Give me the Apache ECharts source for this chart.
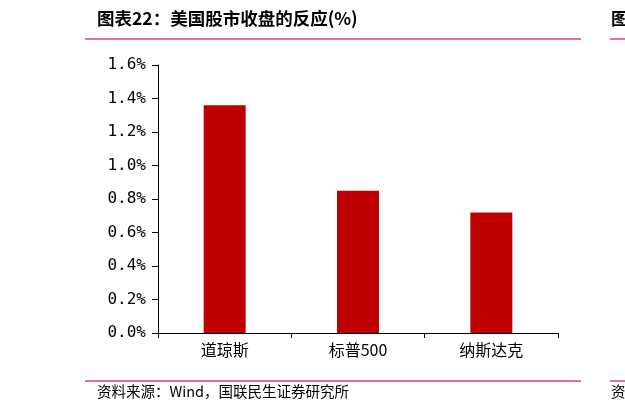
<!DOCTYPE html>
<html>
<head>
<meta charset="utf-8">
<script src="https://cdn.jsdelivr.net/npm/echarts@6/dist/echarts.min.js"></script>
<style>
html,body{margin:0;padding:0;background:#fff;}
#c{width:625px;height:409px;}
</style>
</head>
<body>
<div id="c"></div>
<script>
const categories = ['道琼斯', '标普500', '纳斯达克'];
const values = [1.36, 0.85, 0.72];
const yTicks = [0, 0.2, 0.4, 0.6, 0.8, 1.0, 1.2, 1.4, 1.6];

const chart = echarts.init(document.getElementById('c'), null, {renderer: 'canvas'});
const cjk = '"Noto Sans CJK SC", "Noto Sans", sans-serif';
const lineColor = '#d8466c';
chart.setOption({
  animation: false,
  backgroundColor: '#fff',
  grid: {left: 158, right: 67, top: 65, bottom: 76, containLabel: false},
  xAxis: {
    type: 'category',
    data: categories,
    axisLine: {lineStyle: {color: '#000', width: 1}},
    axisTick: {show: true, length: 5, lineStyle: {color: '#000'}},
    axisLabel: {color: '#000', fontSize: 16, fontFamily: cjk, margin: 9},
    splitLine: {show: false}
  },
  yAxis: {
    type: 'value',
    min: 0, max: 1.6, interval: 0.2,
    axisLine: {show: true, lineStyle: {color: '#000', width: 1}},
    axisTick: {show: true, length: 6, lineStyle: {color: '#000'}},
    splitLine: {show: false},
    axisLabel: {
      color: '#000', fontSize: 16, fontFamily: '"DejaVu Sans Mono", monospace', margin: 12,
      formatter: v => v.toFixed(1) + '%'
    }
  },
  series: [{
    type: 'bar',
    data: values,
    barWidth: 42,
    itemStyle: {color: '#c00000'}
  }],
  graphic: [
    {type: 'text', left: 97, top: 10, style: {text: '图表22：美国股市收盘的反应(%)', fill: '#000', font: 'bold 17.5px ' + cjk}},
    {type: 'line', shape: {x1: 85, y1: 39, x2: 581, y2: 39}, style: {stroke: lineColor, lineWidth: 1.5}},
    {type: 'line', shape: {x1: 610, y1: 39, x2: 625, y2: 39}, style: {stroke: lineColor, lineWidth: 1.5}},
    {type: 'text', left: 611, top: 10, style: {text: '图表23', fill: '#000', font: 'bold 17.5px ' + cjk}},
    {type: 'line', shape: {x1: 85, y1: 381, x2: 581, y2: 381}, style: {stroke: lineColor, lineWidth: 1.5}},
    {type: 'line', shape: {x1: 610, y1: 381, x2: 625, y2: 381}, style: {stroke: lineColor, lineWidth: 1.5}},
    {type: 'text', left: 97, top: 384, style: {text: '资料来源：Wind，国联民生证券研究所', fill: '#000', font: '14.5px ' + cjk}},
    {type: 'text', left: 611, top: 384, style: {text: '资料来源', fill: '#000', font: '14.5px ' + cjk}}
  ]
});
</script>
</body>
</html>
